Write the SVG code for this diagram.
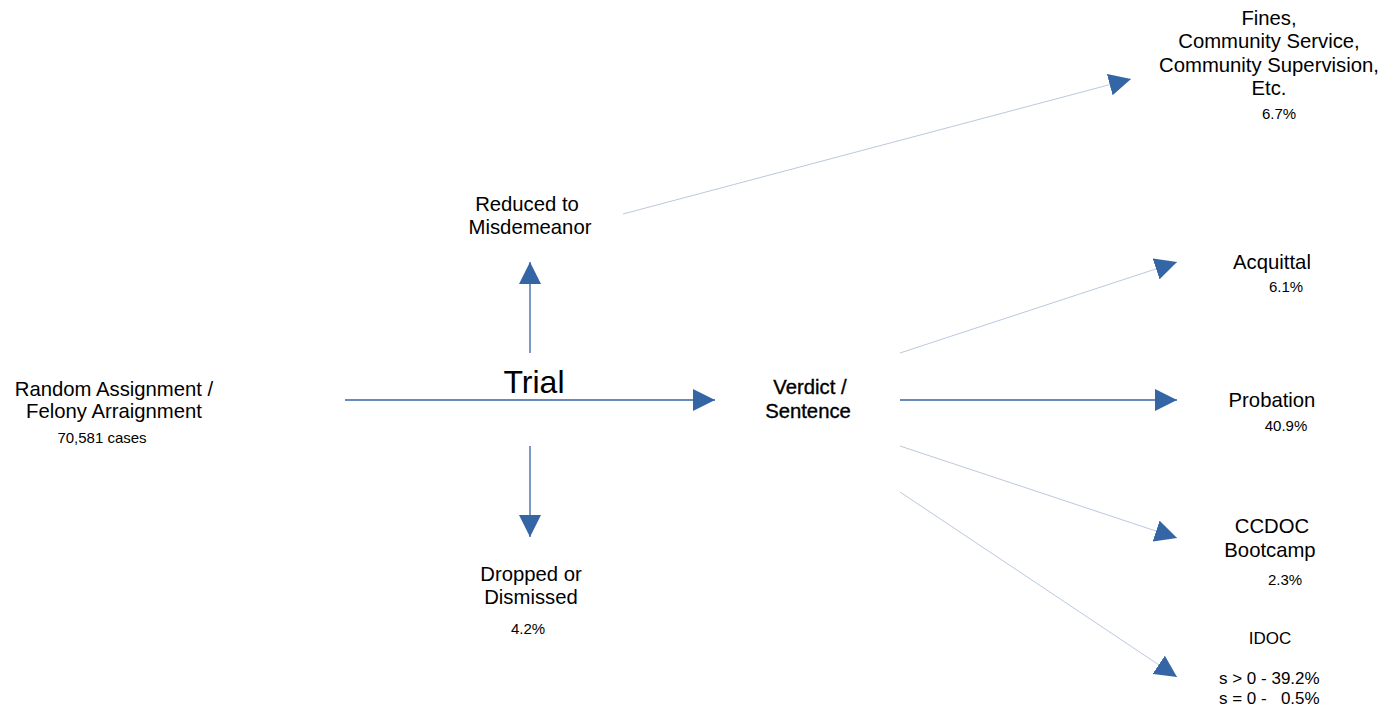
<svg xmlns="http://www.w3.org/2000/svg" width="1397" height="707" viewBox="0 0 1397 707">
<style>
text{font-family:"Liberation Sans",Arial,sans-serif;fill:#000;text-anchor:middle}
.l{font-size:20.3px}
.s{font-size:15px}
.i{font-size:17px}
.v{stroke:#000;stroke-width:0.35px}
.main{stroke:#3465a4;stroke-width:1.3;fill:none}
.thin{stroke:#bac8de;stroke-width:1;fill:none}
</style>
<defs>
<marker id="ah" markerUnits="userSpaceOnUse" markerWidth="22" markerHeight="22" refX="22" refY="11" orient="auto" viewBox="0 0 22 22">
<path d="M0,0 L22,11 L0,22 z" fill="#3465a4"/>
</marker>
</defs>
<rect width="1397" height="707" fill="#fff"/>
<g id="connectors">
<line class="main" x1="345" y1="400" x2="715" y2="400" marker-end="url(#ah)"/>
<line class="main" x1="530" y1="353" x2="530" y2="262" marker-end="url(#ah)"/>
<line class="main" x1="530" y1="446" x2="530" y2="537" marker-end="url(#ah)"/>
<line class="main" x1="900" y1="400" x2="1177" y2="400" marker-end="url(#ah)"/>
<line class="thin" x1="623" y1="214" x2="1131" y2="79" marker-end="url(#ah)"/>
<line class="thin" x1="900" y1="353" x2="1177" y2="262" marker-end="url(#ah)"/>
<line class="thin" x1="900" y1="446" x2="1177" y2="538" marker-end="url(#ah)"/>
<line class="thin" x1="900" y1="492" x2="1177" y2="677" marker-end="url(#ah)"/>
</g>
<g id="start">
<text class="l" x="114" y="396">Random Assignment /</text>
<text class="l" x="114" y="418">Felony Arraignment</text>
<text class="s" x="102" y="443">70,581 cases</text>
</g>
<g id="trial">
<text x="534" y="393" style="font-size:32px">Trial</text>
</g>
<g id="reduced">
<text class="l" x="527" y="211">Reduced to</text>
<text class="l" x="530" y="234">Misdemeanor</text>
</g>
<g id="dropped">
<text class="l" x="531" y="581">Dropped or</text>
<text class="l" x="531" y="604">Dismissed</text>
<text class="s" x="528" y="634">4.2%</text>
</g>
<g id="verdict">
<text class="l v" x="810" y="394">Verdict /</text>
<text class="l v" x="808" y="418">Sentence</text>
</g>
<g id="fines">
<text class="l" x="1269" y="25">Fines,</text>
<text class="l" x="1269" y="48">Community Service,</text>
<text class="l" x="1269" y="72">Community Supervision,</text>
<text class="l" x="1269" y="95">Etc.</text>
<text class="s" x="1279" y="119">6.7%</text>
</g>
<g id="acquittal">
<text class="l" x="1272" y="269">Acquittal</text>
<text class="s" x="1286" y="292">6.1%</text>
</g>
<g id="probation">
<text class="l" x="1272" y="407">Probation</text>
<text class="s" x="1286" y="431">40.9%</text>
</g>
<g id="ccdoc">
<text class="l" x="1272" y="533">CCDOC</text>
<text class="l" x="1270" y="557">Bootcamp</text>
<text class="s" x="1285" y="585">2.3%</text>
</g>
<g id="idoc">
<text class="i" x="1270" y="644">IDOC</text>
<text class="i" x="1219" y="684" style="text-anchor:start">s &gt; 0 - 39.2%</text>
<text class="i" x="1219" y="704" style="text-anchor:start;white-space:pre" xml:space="preserve">s = 0 -   0.5%</text>
</g>
</svg>
